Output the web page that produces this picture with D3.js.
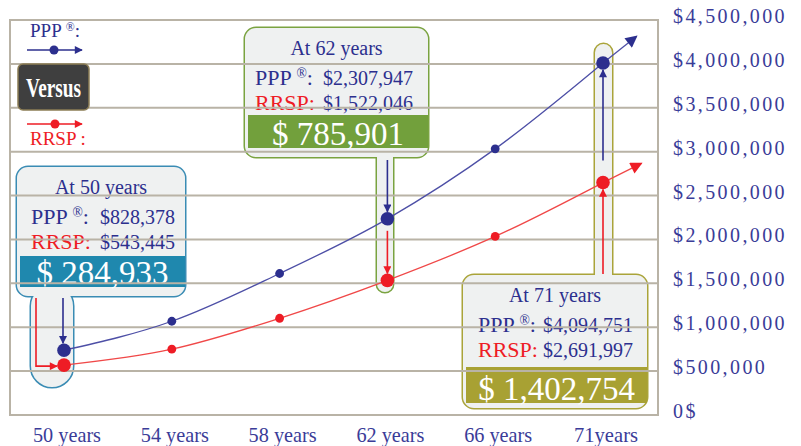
<!DOCTYPE html>
<html><head><meta charset="utf-8">
<script src="https://cdn.jsdelivr.net/npm/d3@7/dist/d3.min.js"></script>
<style>html,body{margin:0;padding:0;background:#fff;}svg{display:block;}</style>
</head><body><svg id="c" width="801" height="446"></svg>
<script>
// ---- data ----
const ages = ["50", "54", "58", "62", "66", "71"];
const ageLabels = ["50 years", "54 years", "58 years", "62 years", "66 years", "71years"];
const pppValues = [738000, 1068000, 1612000, 2235000, 3032000, 4010000];
const rrspValues = [568000, 750000, 1102000, 1534000, 2034000, 2648000];
const yTicks = [0, 500000, 1000000, 1500000, 2000000, 2500000, 3000000, 3500000, 4000000, 4500000];
const yTickLabels = ["0$", "$500,000", "$1,000,000", "$1,500,000", "$2,000,000", "$2,500,000", "$3,000,000", "$3,500,000", "$4,000,000", "$4,500,000"];
const annAges = ["50", "62", "71"];
const annTitles = ["At 50 years", "At 62 years", "At 71 years"];
const annPPP = ["$828,378", "$2,307,947", "$4,094,751"];
const annRRSP = ["$543,445", "$1,522,046", "$2,691,997"];
const annDiff = ["$ 284,933", "$ 785,901", "$ 1,402,754"];

// ---- layout / style ----
const BLUE = "#2c2f8e", BLUE_LINE = "#4d4fa6", RED = "#ee1c25", RED_LINE = "#f04848";
const AXIS_TXT = "#3a3c98", GRID = "#b9b3a6", BOXFILL = "#eff1f1";
const SERIF = "'Liberation Serif','DejaVu Serif',serif";
const annStyle = [
  {x:17, y:167, w:168, h:129, stroke:"#3a8cb4", band:"#1f88ae", bandY:256, bandH:31,
   stem:{x:31, w:42, y0:285, y1:387}, labelX:31, valueX:175},
  {x:245, y:28, w:183, h:129, stroke:"#7aa340", band:"#72a03c", bandY:115, bandH:33,
   stem:{x:377, w:16, y0:145, y1:292}, labelX:255, valueX:413},
  {x:463, y:275, w:184, h:133, stroke:"#aaa43a", band:"#a8a133", bandY:367, bandH:36,
   stem:{x:595, w:17, y0:44, y1:290}, labelX:478, valueX:633}
];

const svg = d3.select("#c");
const x = d3.scalePoint().domain(ages).range([64, 603]);
const y = d3.scaleLinear().domain([0, 4500000]).range([415, 20]);

// defs: arrow markers
const defs = svg.append("defs");
function marker(id, color, w, h) {
  defs.append("marker").attr("id", id).attr("viewBox", "0 0 10 10")
    .attr("refX", 9).attr("refY", 5).attr("markerWidth", w).attr("markerHeight", h)
    .attr("markerUnits", "userSpaceOnUse").attr("orient", "auto")
    .append("path").attr("d", "M0,0L10,5L0,10Z").attr("fill", color);
}
marker("aB", BLUE, 14, 12); marker("aR", RED, 14, 12);
marker("sB", BLUE, 9, 8); marker("sR", RED, 9, 8);

function pppLabel(sel, size) {
  sel.append("tspan").text("PPP ");
  sel.append("tspan").attr("font-size", size * 0.62).attr("dy", -size * 0.32).text("®");
  sel.append("tspan").attr("dy", size * 0.32).text(":");
}

// ---- annotation boxes (under grid) ----
const annG = svg.append("g");
annAges.forEach((a, i) => {
  const s = annStyle[i];
  const g = annG.append("g");
  g.append("rect").attr("x", s.stem.x).attr("y", s.stem.y0).attr("width", s.stem.w)
    .attr("height", s.stem.y1 - s.stem.y0).attr("rx", s.stem.w / 2)
    .attr("fill", BOXFILL).attr("stroke", s.stroke).attr("stroke-width", 3);
  g.append("rect").attr("x", s.x).attr("y", s.y).attr("width", s.w).attr("height", s.h)
    .attr("rx", 11).attr("fill", BOXFILL).attr("stroke", s.stroke).attr("stroke-width", 3);
  g.append("rect").attr("x", s.stem.x).attr("y", s.stem.y0).attr("width", s.stem.w)
    .attr("height", s.stem.y1 - s.stem.y0).attr("rx", s.stem.w / 2).attr("fill", BOXFILL);
  g.append("rect").attr("x", s.x).attr("y", s.y).attr("width", s.w).attr("height", s.h)
    .attr("rx", 11).attr("fill", BOXFILL);
  g.append("rect").attr("x", s.x + 3).attr("y", s.bandY).attr("width", s.w - 3)
    .attr("height", s.bandH).attr("fill", s.band);
  g.append("text").attr("x", s.x + s.w / 2).attr("y", s.y + 27).attr("text-anchor", "middle")
    .attr("font-family", SERIF).attr("font-size", 20).attr("fill", BLUE).text(annTitles[i]);
  const r1 = s.y + 57, r2 = s.y + 82;
  g.append("text").attr("x", s.labelX).attr("y", r1).attr("font-family", SERIF)
    .attr("font-size", 22).attr("fill", BLUE).call(pppLabel, 22);
  g.append("text").attr("x", s.valueX).attr("y", r1).attr("text-anchor", "end").attr("font-family", SERIF)
    .attr("font-size", 20).attr("fill", BLUE).text(annPPP[i]);
  g.append("text").attr("x", s.labelX).attr("y", r2).attr("font-family", SERIF)
    .attr("font-size", 22).attr("fill", RED).text("RRSP:");
  g.append("text").attr("x", s.valueX).attr("y", r2).attr("text-anchor", "end").attr("font-family", SERIF)
    .attr("font-size", 20).attr("fill", BLUE).text(annRRSP[i]);
  g.append("text").attr("x", s.x + 3 + (s.w - 3) / 2).attr("y", s.bandY + s.bandH - 3)
    .attr("text-anchor", "middle").attr("font-family", SERIF).attr("font-size", 33)
    .attr("fill", "#fff").text(annDiff[i]);
});

// ---- grid & frame ----
svg.append("g").selectAll("line").data(yTicks.slice(1, -1)).join("line")
  .attr("x1", 10).attr("x2", 658).attr("y1", d => y(d)).attr("y2", d => y(d))
  .attr("stroke", GRID).attr("stroke-width", 2);
svg.append("rect").attr("x", 10).attr("y", y(4500000)).attr("width", 648)
  .attr("height", y(0) - y(4500000)).attr("fill", "none").attr("stroke", GRID).attr("stroke-width", 2);

// right axis labels
svg.append("g").selectAll("text").data(yTicks).join("text")
  .attr("x", 673).attr("y", d => y(d) + 3).attr("font-family", SERIF).attr("font-size", 20)
  .attr("letter-spacing", 2.4).attr("fill", AXIS_TXT).text((d, i) => yTickLabels[i]);

// x labels
svg.append("g").selectAll("text").data(ages).join("text")
  .attr("x", d => x(d) + 3).attr("y", 442).attr("text-anchor", "middle")
  .attr("font-family", SERIF).attr("font-size", 22).attr("fill", AXIS_TXT)
  .attr("textLength", (d, i) => i === 5 ? 64 : 68).attr("lengthAdjust", "spacingAndGlyphs")
  .text((d, i) => ageLabels[i]);

// ---- series ----
function drawSeries(vals, lineColor, dotColor, mk) {
  const pts = ages.map((a, i) => [x(a), y(vals[i])]);
  svg.append("path").attr("d", d3.line().curve(d3.curveMonotoneX)(pts))
    .attr("fill", "none").attr("stroke", lineColor).attr("stroke-width", 1.3);
  const p1 = pts[pts.length - 2], p2 = pts[pts.length - 1];
  const dx = p2[0] - p1[0], dy = p2[1] - p1[1], L = Math.hypot(dx, dy), ext = 43;
  svg.append("line").attr("x1", p2[0]).attr("y1", p2[1])
    .attr("x2", p2[0] + dx / L * ext).attr("y2", p2[1] + dy / L * ext)
    .attr("stroke", lineColor).attr("stroke-width", 1.3).attr("marker-end", `url(#${mk})`);
  svg.append("g").selectAll("circle").data(ages).join("circle")
    .attr("cx", d => x(d)).attr("cy", (d, i) => y(vals[i]))
    .attr("r", d => annAges.includes(d) ? 6.8 : 4.4).attr("fill", dotColor);
}
drawSeries(pppValues, BLUE_LINE, BLUE, "aB");
drawSeries(rrspValues, RED_LINE, RED, "aR");

// ---- annotation arrows ----
function arrow(pts, color, mk) {
  svg.append("path").attr("d", d3.line()(pts)).attr("fill", "none")
    .attr("stroke", color).attr("stroke-width", 1.6).attr("marker-end", `url(#${mk})`);
}
{
  const i0 = 0, cx = x("50");
  arrow([[cx - 1, 298], [cx - 1, y(pppValues[i0]) - 7]], BLUE, "sB");
  arrow([[cx - 28, 298], [cx - 28, y(rrspValues[i0]) + 1], [cx - 7, y(rrspValues[i0]) + 1]], RED, "sR");
}
{
  const i3 = 3, cx = x("62");
  arrow([[cx, 160], [cx, y(pppValues[i3]) - 7]], BLUE, "sB");
  arrow([[cx, y(pppValues[i3]) + 12], [cx, y(rrspValues[i3]) - 7]], RED, "sR");
}
{
  const i5 = 5, cx = x("71");
  arrow([[cx, 274], [cx, y(rrspValues[i5]) + 7]], RED, "sR");
  arrow([[cx, y(rrspValues[i5]) - 22], [cx, y(pppValues[i5]) + 7]], BLUE, "sB");
}

// ---- legend ----
const lg = svg.append("g");
lg.append("text").attr("x", 30).attr("y", 37).attr("font-family", SERIF).attr("font-size", 19)
  .attr("fill", BLUE).call(pppLabel, 19);
lg.append("line").attr("x1", 27).attr("x2", 82).attr("y1", 50).attr("y2", 50)
  .attr("stroke", BLUE).attr("stroke-width", 1.3).attr("marker-end", "url(#sB)");
lg.append("circle").attr("cx", 54).attr("cy", 50).attr("r", 4.5).attr("fill", BLUE);
lg.append("rect").attr("x", 18).attr("y", 64).attr("width", 71).attr("height", 46).attr("rx", 5)
  .attr("fill", "#3f3f3f").attr("stroke", "#8c7d55").attr("stroke-width", 1.5);
lg.append("text").attr("x", 53.5).attr("y", 97).attr("text-anchor", "middle").attr("font-family", SERIF)
  .attr("font-weight", "bold").attr("font-size", 27).attr("fill", "#fff")
  .attr("textLength", 55).attr("lengthAdjust", "spacingAndGlyphs").text("Versus");
lg.append("line").attr("x1", 27).attr("x2", 82).attr("y1", 124).attr("y2", 124)
  .attr("stroke", RED).attr("stroke-width", 1.3).attr("marker-end", "url(#sR)");
lg.append("circle").attr("cx", 55).attr("cy", 124).attr("r", 4.5).attr("fill", RED);
lg.append("text").attr("x", 30).attr("y", 145).attr("font-family", SERIF).attr("font-size", 19)
  .attr("fill", RED).text("RRSP :");
</script></body></html>
